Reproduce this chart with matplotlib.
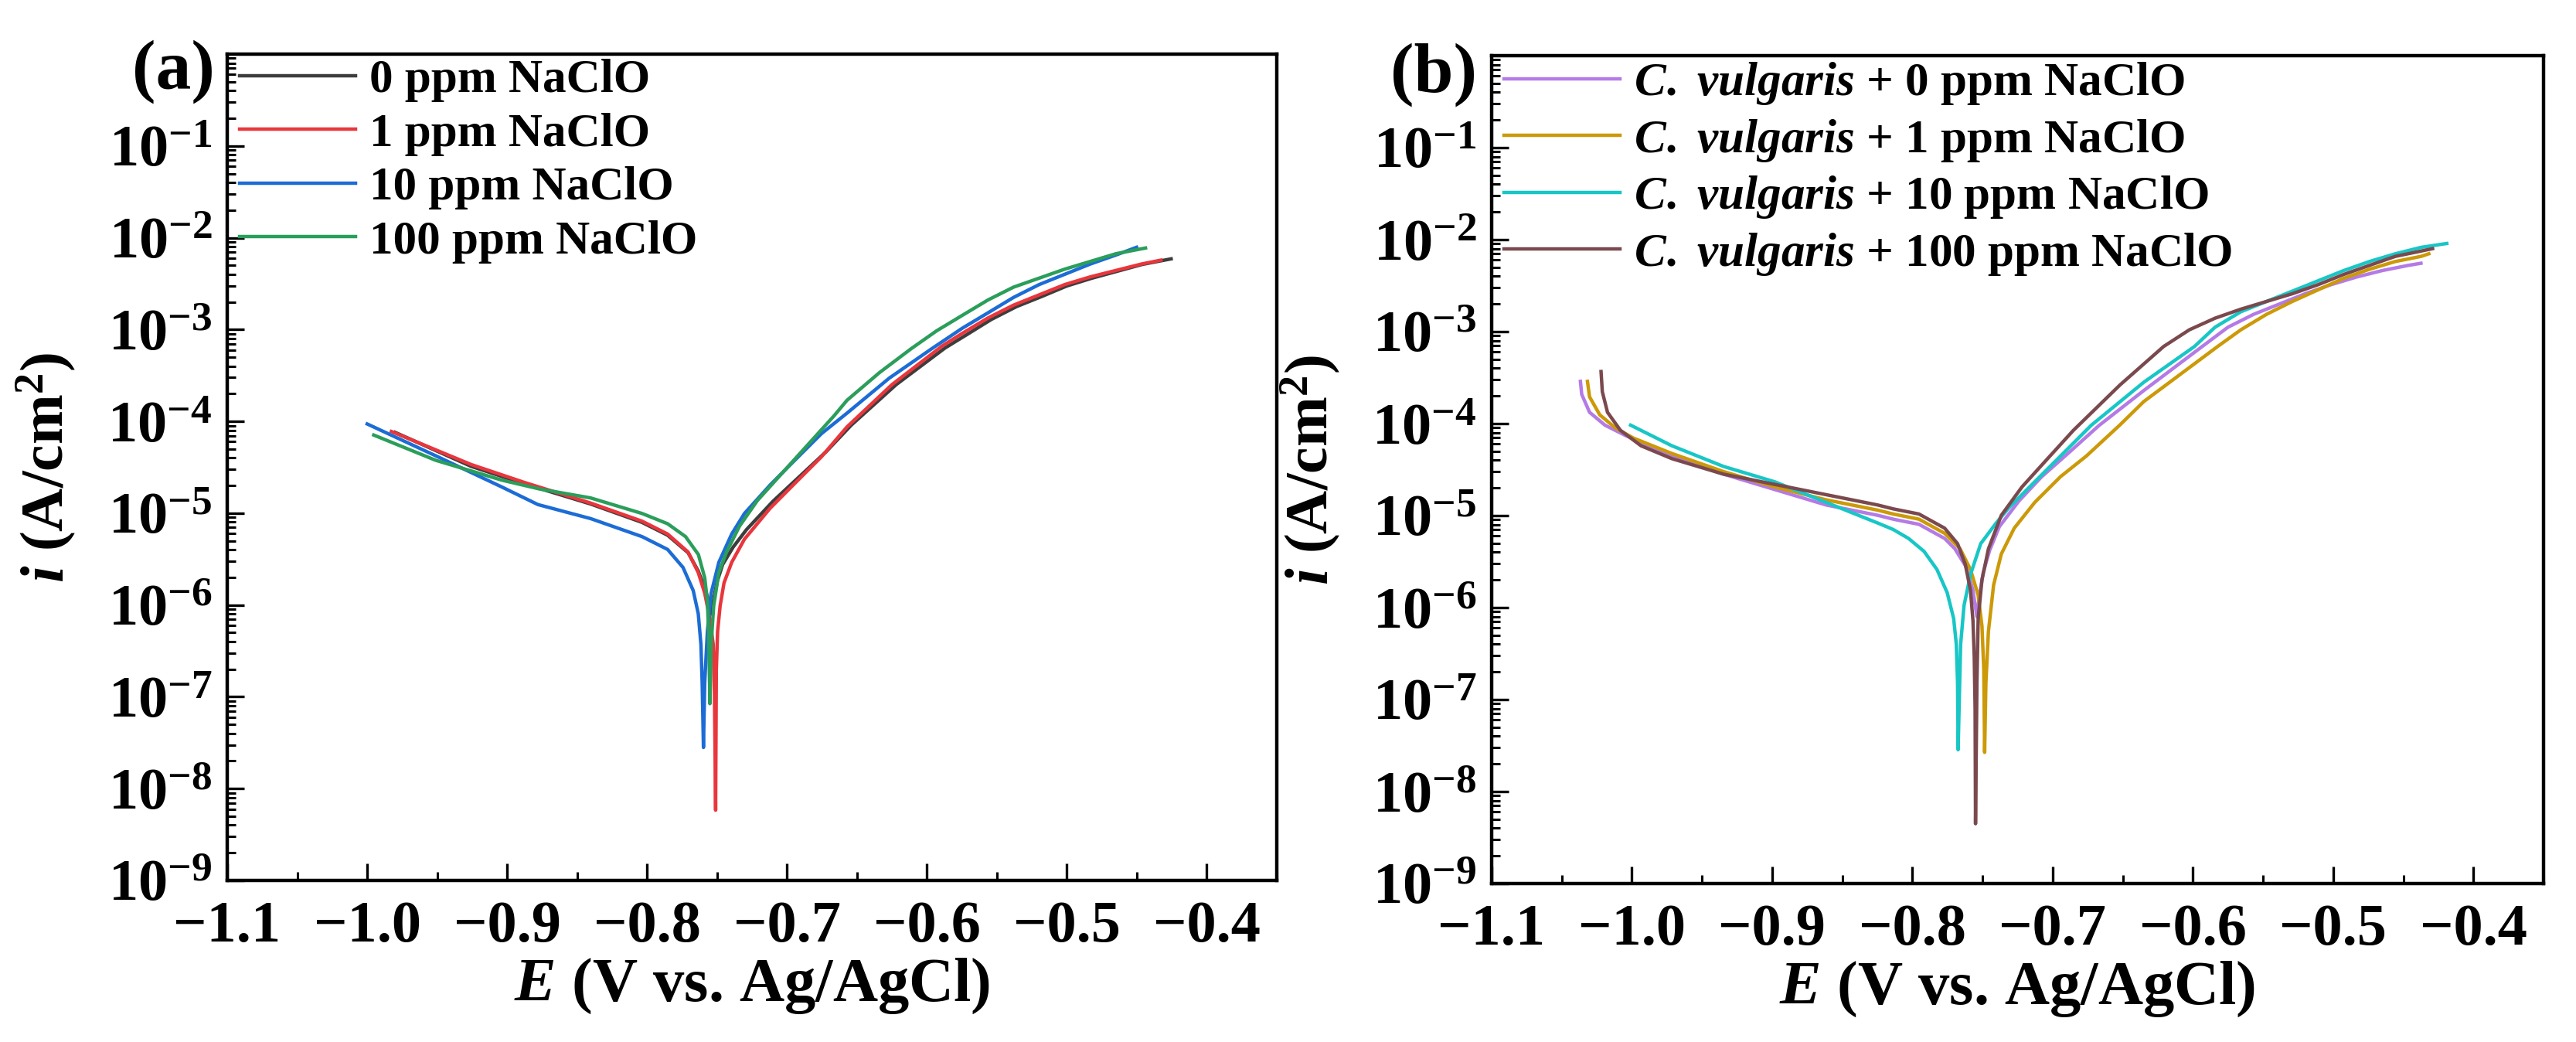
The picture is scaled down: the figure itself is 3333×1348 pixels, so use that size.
import matplotlib
matplotlib.use("Agg")
import matplotlib.pyplot as plt
import numpy as np
from matplotlib.ticker import FixedLocator, MultipleLocator, FuncFormatter, LogLocator, NullFormatter

plt.rcParams['font.family'] = ['Liberation Serif', 'DejaVu Serif']
plt.rcParams['font.weight'] = 'bold'
plt.rcParams['axes.labelweight'] = 'bold'
plt.rcParams['mathtext.fontset'] = 'custom'
plt.rcParams['mathtext.rm'] = 'Liberation Serif:bold'
plt.rcParams['mathtext.bf'] = 'Liberation Serif:bold'
plt.rcParams['mathtext.it'] = 'Liberation Serif:bold:italic'

# ---- panel (a): NaClO only  (E in V, log10 of i in A/cm2) ----
E_a0 = [-0.980, -0.9257, -0.8877, -0.8403, -0.8036, -0.7853, -0.7707, -0.7634, -0.7580, -0.7535,
        -0.7525, -0.7500, -0.7460, -0.7385, -0.7290, -0.7100, -0.6910, -0.6720, -0.6540, -0.6220,
        -0.5870, -0.5720, -0.5540, -0.5360, -0.5180, -0.5000, -0.4820, -0.4640, -0.4460, -0.4255]
L_a0 = [-4.12, -4.49, -4.68, -4.90, -5.10, -5.24, -5.43, -5.63, -5.85, -6.10,
        -5.95, -5.75, -5.56, -5.37, -5.18, -4.87, -4.60, -4.33, -4.04, -3.60,
        -3.20, -3.06, -2.89, -2.75, -2.64, -2.525, -2.44, -2.365, -2.29, -2.23]

E_a1 = [-0.9827, -0.9257, -0.8877, -0.8403, -0.8036, -0.7853, -0.7707, -0.7634, -0.7588, -0.7551,
        -0.7527, -0.7518, -0.7510,
        -0.7505, -0.7496, -0.7478, -0.7450, -0.7395, -0.7304, -0.7121, -0.6938, -0.6754, -0.6571,
        -0.6250, -0.5894, -0.5748, -0.5564, -0.5381, -0.5198, -0.5015, -0.4832, -0.4649, -0.4466, -0.4328]
L_a1 = [-4.11, -4.47, -4.665, -4.89, -5.087, -5.227, -5.423, -5.647, -5.871, -6.151,
        -6.431, -6.991, -8.235,
        -6.711, -6.291, -6.011, -5.759, -5.535, -5.283, -4.947, -4.666, -4.386, -4.06,
        -3.60, -3.182, -3.042, -2.874, -2.734, -2.622, -2.510, -2.426, -2.356, -2.286, -2.244]

E_a10 = [-1.000, -0.951, -0.904, -0.878, -0.8403, -0.8036, -0.7853, -0.7743, -0.7670, -0.7634,
         -0.7615, -0.7606, -0.7597,
         -0.7588, -0.7569, -0.7542, -0.7487, -0.7395, -0.7304, -0.7121, -0.6938, -0.6754, -0.6571,
         -0.6270, -0.5967, -0.5748, -0.5564, -0.5381, -0.5198, -0.5015, -0.4832, -0.4649, -0.4502]
L_a10 = [-4.028, -4.375, -4.713, -4.906, -5.059, -5.255, -5.395, -5.591, -5.843, -6.095,
         -6.431, -6.851, -7.552,
         -6.851, -6.291, -5.871, -5.535, -5.227, -5.003, -4.694, -4.414, -4.134, -3.91,
         -3.53, -3.21, -2.986, -2.818, -2.650, -2.510, -2.398, -2.286, -2.188, -2.104]

E_a100 = [-0.9953, -0.9510, -0.9035, -0.8769, -0.8403, -0.8036, -0.7853, -0.7725, -0.7633, -0.7588,
          -0.7569, -0.7560, -0.7555, -0.7551,
          -0.7542, -0.7524, -0.7487, -0.7432, -0.7340, -0.7212, -0.7029, -0.6846, -0.6663, -0.6571,
          -0.6340, -0.6114, -0.5931, -0.5748, -0.5564, -0.5381, -0.5198, -0.5015, -0.4832, -0.4649, -0.4438]
L_a100 = [-4.149, -4.424, -4.641, -4.736, -4.834, -5.003, -5.115, -5.255, -5.451, -5.703,
          -5.955, -6.291, -6.711, -7.075,
          -6.431, -6.011, -5.647, -5.423, -5.143, -4.863, -4.554, -4.246, -3.938, -3.77,
          -3.47, -3.21, -3.014, -2.846, -2.678, -2.538, -2.440, -2.342, -2.258, -2.174, -2.112]

# ---- panel (b): C. vulgaris + NaClO ----
E_b0 = [-1.0367, -1.0358, -1.0302, -1.0192, -1.0046, -0.9715, -0.9348, -0.8981, -0.8614, -0.8247,
        -0.8137, -0.7953, -0.7770, -0.7697, -0.7620, -0.7570, -0.7540,
        -0.7525, -0.7495, -0.7450, -0.7380, -0.7240, -0.7080, -0.6895, -0.6669, -0.6350,
        -0.5934, -0.5750, -0.5567, -0.5383, -0.5199, -0.5016, -0.4832, -0.4649, -0.4465, -0.4374]
L_b0 = [-3.541, -3.681, -3.877, -4.017, -4.129, -4.353, -4.549, -4.717, -4.885, -4.997,
        -5.039, -5.095, -5.249, -5.361, -5.55, -5.80, -6.10,
        -5.90, -5.62, -5.38, -5.12, -4.84, -4.58, -4.33, -4.02, -3.64,
        -3.162, -2.952, -2.812, -2.700, -2.588, -2.490, -2.406, -2.336, -2.280, -2.257]

E_b1 = [-1.0317, -1.0302, -1.0229, -1.0119, -0.9990, -0.9715, -0.9348, -0.8981, -0.8614, -0.8247,
        -0.8137, -0.7953, -0.7770, -0.7660, -0.7586, -0.7531, -0.7504, -0.7491, -0.7485,
        -0.7476, -0.7458, -0.7421, -0.7366, -0.7274, -0.7128, -0.6944, -0.6760, -0.6522, -0.6350,
        -0.5824, -0.5658, -0.5475, -0.5291, -0.5108, -0.4924, -0.4741, -0.4557, -0.4373, -0.4318]
L_b1 = [-3.541, -3.709, -3.905, -4.045, -4.157, -4.325, -4.521, -4.689, -4.829, -4.941,
        -4.983, -5.039, -5.193, -5.361, -5.586, -5.866, -6.202, -6.678, -7.574,
        -6.818, -6.258, -5.754, -5.417, -5.137, -4.857, -4.577, -4.353, -4.017, -3.76,
        -3.162, -2.980, -2.812, -2.672, -2.546, -2.420, -2.322, -2.238, -2.182, -2.154]

E_b10 = [-1.0009, -0.9715, -0.9348, -0.8981, -0.8614, -0.8247, -0.8137, -0.8027, -0.7917, -0.7825,
         -0.7752, -0.7706, -0.7687, -0.7678, -0.7674,
         -0.7663, -0.7656, -0.7632, -0.7586, -0.7513, -0.7403, -0.7311, -0.7128, -0.6944, -0.6724,
         -0.6350, -0.5989, -0.5842, -0.5658, -0.5475, -0.5291, -0.5108, -0.4924, -0.4741, -0.4557,
         -0.4373, -0.4190]
L_b10 = [-4.017, -4.241, -4.465, -4.633, -4.857, -5.081, -5.151, -5.249, -5.389, -5.586,
         -5.838, -6.118, -6.398, -6.818, -7.546,
         -6.818, -6.398, -5.978, -5.642, -5.305, -5.081, -4.913, -4.633, -4.353, -4.017,
         -3.55, -3.162, -2.952, -2.784, -2.672, -2.560, -2.448, -2.336, -2.238, -2.154,
         -2.084, -2.042]

E_b100 = [-1.0220, -1.0211, -1.0174, -1.0082, -0.9935, -0.9715, -0.9348, -0.8981, -0.8614, -0.8247,
          -0.8137, -0.7953, -0.7770, -0.7678, -0.7623, -0.7586, -0.7568, -0.7559, -0.7553, -0.7550,
          -0.7540, -0.7531, -0.7504, -0.7458, -0.7366, -0.7219, -0.7036, -0.6852, -0.6520, -0.6209,
          -0.6025, -0.5842, -0.5658, -0.5475, -0.5291, -0.5108, -0.4924, -0.4741, -0.4557, -0.4291]
L_b100 = [-3.434, -3.653, -3.877, -4.073, -4.241, -4.381, -4.549, -4.661, -4.773, -4.885,
          -4.927, -4.983, -5.137, -5.305, -5.530, -5.810, -6.146, -6.538, -7.098, -8.35,
          -6.818, -6.118, -5.698, -5.362, -4.997, -4.689, -4.381, -4.073, -3.58, -3.162,
          -2.980, -2.854, -2.756, -2.672, -2.588, -2.490, -2.378, -2.280, -2.182, -2.098]

labels_a = ['0 ppm NaClO', '1 ppm NaClO', '10 ppm NaClO', '100 ppm NaClO']
labels_b = [r'$\mathit{C.\ vulgaris}$ + 0 ppm NaClO', r'$\mathit{C.\ vulgaris}$ + 1 ppm NaClO',
            r'$\mathit{C.\ vulgaris}$ + 10 ppm NaClO', r'$\mathit{C.\ vulgaris}$ + 100 ppm NaClO']
colors_a = ['#3d3d3d', '#e8363c', '#1c6cd6', '#2a9e5a']
colors_b = ['#b47ae6', '#cc9907', '#18c6c6', '#7a494e']

xticks = [-1.1, -1.0, -0.9, -0.8, -0.7, -0.6, -0.5, -0.4]
ytick_exp = [-9, -8, -7, -6, -5, -4, -3, -2, -1]

W, H = 3333, 1348
fig = plt.figure(figsize=(W / 100, H / 100), dpi=100)
ax_a = fig.add_axes([294 / W, 1 - 1139 / H, 1358 / W, 1069 / H])
ax_b = fig.add_axes([1930 / W, 1 - 1143 / H, 1361 / W, 1071 / H])

series_a = [(E_a0, L_a0), (E_a1, L_a1), (E_a10, L_a10), (E_a100, L_a100)]
series_b = [(E_b0, L_b0), (E_b1, L_b1), (E_b10, L_b10), (E_b100, L_b100)]

for ax, series, labels, colors in [(ax_a, series_a, labels_a, colors_a),
                                   (ax_b, series_b, labels_b, colors_b)]:
    for (E, L), lab, c in zip(series, labels, colors):
        ax.plot(E, 10.0 ** np.array(L), color=c, lw=3.2, label=lab, solid_joinstyle='round')
    ax.set_yscale('log')
    ax.set_xlim(-1.1, -0.35)
    ax.set_ylim(1e-9, 1e0)
    ax.yaxis.set_major_locator(FixedLocator([10.0 ** k for k in ytick_exp]))
    ax.set_yticklabels([r'$\mathbf{10^{%d}}$' % k for k in ytick_exp])
    ax.yaxis.set_minor_locator(LogLocator(base=10, subs=np.arange(2, 10), numticks=20))
    ax.yaxis.set_minor_formatter(NullFormatter())
    ax.xaxis.set_major_locator(FixedLocator(xticks))
    ax.xaxis.set_major_formatter(FuncFormatter(lambda v, p: ('%.1f' % v).replace('-', '\u2212')))
    ax.xaxis.set_minor_locator(MultipleLocator(0.05))
    ax.tick_params(which='both', direction='in', top=False, right=False, labelsize=55)
    ax.tick_params(which='major', length=16, width=2.4)
    ax.tick_params(which='minor', length=8, width=2.2)
    ax.tick_params(axis='x', pad=19)
    ax.tick_params(axis='y', pad=14)
    for sp in ax.spines.values():
        sp.set_linewidth(3.2)
    ax.set_xlabel(r'$\mathit{E}$ (V vs. Ag/AgCl)', fontsize=58, labelpad=2)
    ax.set_ylabel(r'$\mathit{i}$ (A/cm$^{\mathbf{2}}$)', fontsize=56)
    ax.yaxis.set_label_coords(-0.142, 0.5)
    ax.legend(loc='upper left', bbox_to_anchor=(0.012, 0.994), frameon=False, fontsize=44,
              borderpad=0, borderaxespad=0, handlelength=2.45, handletextpad=0.3,
              labelspacing=0.22)

fig.text(224 / W, 1 - 93 / H, '(a)', fontsize=66, fontweight='bold', ha='center', va='center')
fig.text(1855 / W, 1 - 97 / H, '(b)', fontsize=66, fontweight='bold', ha='center', va='center')

fig.savefig('out.png', dpi=100)
